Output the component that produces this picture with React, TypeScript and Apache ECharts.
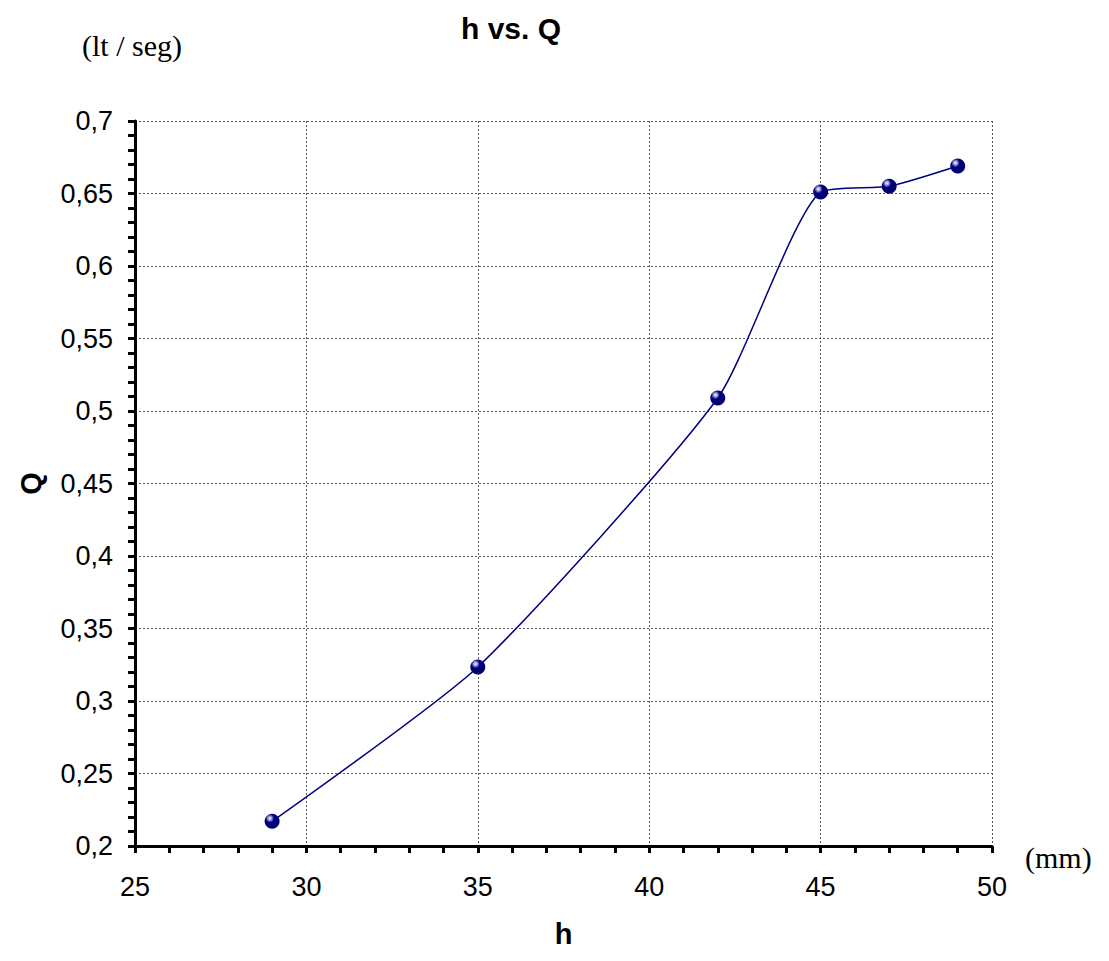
import React, { useEffect, useRef } from "react";
import * as echarts from "echarts";

const hValues = [29, 35, 42, 45, 47, 49];
const qValues = [0.217, 0.3235, 0.509, 0.651, 0.655, 0.669];
const xTicks = { min: 25, max: 50, interval: 5 };
const yTicks = { min: 0.2, max: 0.7, interval: 0.05 };

const fmt = (v: number) => String(Math.round(v * 1000) / 1000).replace(".", ",");

export default function App() {
  const ref = useRef<HTMLDivElement>(null);
  useEffect(() => {
    const chart = echarts.init(ref.current!, undefined, { renderer: "svg" });
    const sans = "'Liberation Sans', Arial, sans-serif";
    const serif = "'Liberation Serif', 'Times New Roman', serif";
    chart.setOption({
      animation: false,
      backgroundColor: "#ffffff",
      title: {
        text: "h vs. Q",
        left: 498,
        top: 0,
        textAlign: "center",
        textStyle: { fontFamily: sans, fontWeight: "bold", fontSize: 30, color: "#000" },
      },
      graphic: [
        {
          type: "text",
          left: 74,
          top: 22,
          style: { text: "(lt / seg)", font: `30px ${serif}`, fill: "#000" },
        },
        {
          type: "text",
          left: 1017,
          top: 834,
          style: { text: "(mm)", font: `30px ${serif}`, fill: "#000" },
        },
      ],
      grid: { left: 122, right: 109, top: 113, bottom: 96, containLabel: false, show: false },
      xAxis: {
        type: "value",
        min: xTicks.min,
        max: xTicks.max,
        interval: xTicks.interval,
        name: "h",
        nameLocation: "middle",
        nameGap: 73,
        nameTextStyle: { fontFamily: sans, fontWeight: "bold", fontSize: 29, color: "#000" },
        axisLine: { show: true, onZero: false, lineStyle: { color: "#000", width: 3 } },
        axisTick: { show: true, inside: false, length: 7, lineStyle: { color: "#000", width: 3 } },
        minorTick: { show: true, splitNumber: 5, length: 7, lineStyle: { color: "#000", width: 3 } },
        axisLabel: { fontFamily: sans, fontSize: 27, color: "#000", margin: 27, formatter: fmt },
        splitLine: { show: true, lineStyle: { color: "#555", type: [2, 2], width: 1 } },
      },
      yAxis: {
        type: "value",
        min: yTicks.min,
        max: yTicks.max,
        interval: yTicks.interval,
        name: "Q",
        nameLocation: "middle",
        nameGap: 90,
        nameRotate: 90,
        nameTextStyle: { fontFamily: sans, fontWeight: "bold", fontSize: 29, color: "#000" },
        axisLine: { show: true, onZero: false, lineStyle: { color: "#000", width: 3 } },
        axisTick: { show: true, inside: false, length: 7, lineStyle: { color: "#000", width: 3 } },
        minorTick: { show: true, splitNumber: 5, length: 7, lineStyle: { color: "#000", width: 3 } },
        axisLabel: { fontFamily: sans, fontSize: 27, color: "#000", margin: 22, formatter: fmt },
        splitLine: { show: true, lineStyle: { color: "#555", type: [2, 2], width: 1 } },
      },
      series: [
        {
          type: "line",
          data: hValues.map((h, i) => [h, qValues[i]]),
          smooth: 0.2,
          symbol: "circle",
          symbolSize: 15,
          lineStyle: { color: "#000080", width: 1.5 },
          itemStyle: {
            color: {
              type: "radial",
              x: 0.35,
              y: 0.3,
              r: 0.7,
              colorStops: [
                { offset: 0, color: "#ffffff" },
                { offset: 0.2, color: "#9090d0" },
                { offset: 0.4, color: "#000080" },
                { offset: 1, color: "#000070" },
              ],
            },
            borderWidth: 0,
          },
          z: 5,
        },
      ],
    });
    return () => chart.dispose();
  }, []);
  return <div ref={ref} style={{ width: 1093, height: 945 }} />;
}
